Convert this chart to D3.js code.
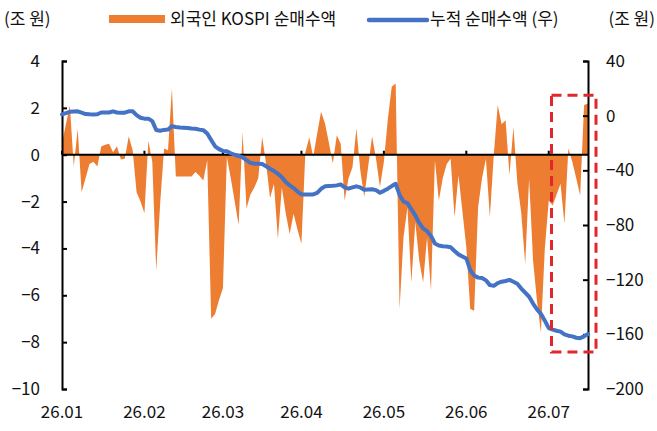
<!DOCTYPE html>
<html>
<head>
<meta charset="utf-8">
<script src="https://cdn.jsdelivr.net/npm/d3@7"></script>
<style>
    body { margin: 0; background: #fff; }
    svg { font-family: "Noto Sans CJK KR", "Noto Sans", sans-serif; }
</style>
</head>
<body>
<svg id="chart" width="657" height="431"></svg>
<script>
// daily foreign net buying of KOSPI (조 원), trading day index from 26.01 start
const netBuy = [
    0.5, 1.3, 2.1, -0.5, 1.1, -1.6, -1.0, -0.4, -0.3, -0.5,
    0.35, 0.42, 0.47, 0.1, 0.36, -0.2, -0.17, 0.79, 0.19, -1.6,
    -2.0, -2.5, 0.6, -0.3, -4.95, -2.1, 0.27, 0.19, 2.83, -0.93,
    -0.93, -0.93, -0.93, -0.93, -0.74, -0.9, -1.1, -0.24, -7.0, -6.8,
    -6.2, -5.7, -0.1, -1.0, -2.0, -3.0, 0.97, -2.3, -1.7, -1.4,
    -1.0, 0.76, -0.4, -1.85, -1.24, -3.6, -1.4, -2.5, -3.38, -2.52,
    -3.2, -3.8, 0.1, 0.73, -0.1, 0.9, 1.83, 1.33, 0.5, -0.38,
    0.83, 0.47, -1.95, -1.0, -0.53, 1.12, -0.67, -1.81, -0.5, 0.79,
    -0.17, -1.38, -0.3, 1.5, 2.9, 3.04, -6.59, -3.52, -2.24, -5.45,
    -2.88, -4.5, -5.45, -3.52, -5.8, -0.24, -1.95, -1.0, -0.4, -0.17,
    -2.67, -0.88, -2.4, -3.95, -6.59, -6.66, -2.24, -1.0, -0.17, -2.67,
    0.0, 2.12, 1.3, 1.47, -0.88, 1.18, -1.2, -2.5, -4.66, -1.02,
    -4.5, -6.23, -7.59, -4.0, -1.95, -2.17, -1.7, -1.24, -2.95, 0.26,
    -0.3, -1.0, -1.74, 2.12, 2.19
];

// cumulative net buying (조 원, right axis)
const cumNet = [
    0.9, 1.8, 2.8, 3.0, 3.2, 2.2, 1.2, 1.0, 0.9, 1.0,
    2.3, 2.3, 2.3, 3.2, 2.3, 2.2, 2.2, 3.2, 3.2, 0.4,
    -1.5, -2.2, -2.2, -4.0, -10.5, -11.0, -10.4, -10.2, -7.8, -8.3,
    -8.7, -8.8, -9.0, -9.4, -9.6, -10.2, -10.6, -13, -17.8, -22.4,
    -24.5, -25.8, -26, -27.5, -28.6, -29.5, -30.5, -32.5, -34.5, -35.1,
    -35.1, -35.3, -37, -38.8, -40.5, -42.5, -45, -48.5, -51, -53,
    -55.5, -57.6, -57.6, -57.6, -57.6, -56.5, -53.5, -51.7, -51.5, -51.3,
    -51, -50.3, -52.5, -53.4, -52.5, -51.7, -52.5, -54.2, -54, -53.9,
    -54.5, -56.4, -55, -53.4, -51.5, -49.8, -58, -62.8, -64, -68.5,
    -73, -78.5, -82.5, -84.5, -88, -93.5, -95, -95.6, -95.8, -96.3,
    -99, -101.5, -103, -104.5, -113, -117, -118.5, -118.8, -120.5, -124,
    -124.5, -122.5, -121.5, -121, -120.2, -121.5, -123, -126.5, -129.5, -132.5,
    -137.5, -141.7, -145, -150, -155.5, -156.5, -157.4, -158, -160, -161,
    -161.5, -162.5, -162.8, -161.5, -159.8
];

const monthLabels = ["26.01", "26.02", "26.03", "26.04", "26.05", "26.06", "26.07"];
const monthStart = [0, 21, 41, 61, 82, 103, 124];
const leftTicks = [-10, -8, -6, -4, -2, 0, 2, 4];
const rightTicks = [-200, -160, -120, -80, -40, 0, 40];
// highlighted recent period (index range, right-axis range)
const boxIdx = [124.7, 134];
const boxVal = [15, -173];

const ORANGE = "#ED7D31", BLUE = "#4472C4", RED = "#E3262B";
const FS = 17;

const svg = d3.select("#chart");
const plotL = 62, plotR = 588, plotT = 61, plotB = 389;

const x = d3.scaleLinear().domain([0, netBuy.length - 1]).range([plotL, plotR]);
const yL = d3.scaleLinear().domain([-10, 4]).range([plotB, plotT]);
const yR = d3.scaleLinear().domain([-200, 40]).range([plotB, plotT]);

// orange area
const area = d3.area()
    .x(function (d, i) { return x(i); })
    .y0(yL(0))
    .y1(function (d) { return yL(d); });

svg.append("path")
    .datum(netBuy)
    .attr("d", area)
    .attr("fill", ORANGE);

// zero line acting as x axis
svg.append("line")
    .attr("x1", plotL).attr("x2", plotR)
    .attr("y1", yL(0)).attr("y2", yL(0))
    .attr("stroke", "#000").attr("stroke-width", 2);

svg.selectAll(".mtick")
    .data(monthStart)
    .enter().append("line")
    .attr("class", "mtick")
    .attr("x1", function (d) { return x(d); })
    .attr("x2", function (d) { return x(d); })
    .attr("y1", yL(0))
    .attr("y2", yL(0) - 4)
    .attr("stroke", "#000").attr("stroke-width", 2);

svg.selectAll(".mlabel")
    .data(monthLabels)
    .enter().append("text")
    .attr("class", "mlabel")
    .attr("x", function (d, i) { return x(monthStart[i]); })
    .attr("y", 418)
    .attr("text-anchor", "middle")
    .attr("font-size", FS)
    .attr("fill", "#111")
    .text(function (d) { return d; });

// y axes, ticks pointing inward
const axL = svg.append("g")
    .attr("transform", "translate(" + plotL + ",0)")
    .call(d3.axisLeft(yL).tickValues(leftTicks).tickSize(-5).tickPadding(22));
const axR = svg.append("g")
    .attr("transform", "translate(" + plotR + ",0)")
    .call(d3.axisRight(yR).tickValues(rightTicks).tickSize(-5).tickPadding(18));

[axL, axR].forEach(function (g) {
    g.select(".domain").attr("stroke", "#000").attr("stroke-width", 2);
    g.selectAll(".tick line").attr("stroke", "#000").attr("stroke-width", 2);
    g.selectAll(".tick text")
        .attr("font-size", FS)
        .attr("font-family", "\"Noto Sans CJK KR\", sans-serif")
        .attr("fill", "#111");
});

// cumulative line
const line = d3.line()
    .x(function (d, i) { return x(i); })
    .y(function (d) { return yR(d); });

svg.append("path")
    .datum(cumNet)
    .attr("d", line)
    .attr("fill", "none")
    .attr("stroke", BLUE)
    .attr("stroke-width", 4)
    .attr("stroke-linejoin", "round")
    .attr("stroke-linecap", "round");

// highlight box
svg.append("rect")
    .attr("x", x(boxIdx[0]))
    .attr("y", yR(boxVal[0]))
    .attr("width", x(boxIdx[1]) - x(boxIdx[0]) + 8)
    .attr("height", yR(boxVal[1]) - yR(boxVal[0]))
    .attr("fill", "none")
    .attr("stroke", RED)
    .attr("stroke-width", 3)
    .attr("stroke-dasharray", "10,6");

// unit labels + legend
svg.append("text")
    .attr("x", 4).attr("y", 25)
    .attr("font-size", FS).attr("fill", "#111")
    .text("(조 원)");
svg.append("text")
    .attr("x", 655).attr("y", 25)
    .attr("text-anchor", "end")
    .attr("font-size", FS).attr("fill", "#111")
    .text("(조 원)");

svg.append("rect")
    .attr("x", 109).attr("y", 15)
    .attr("width", 56).attr("height", 8)
    .attr("fill", ORANGE);
svg.append("text")
    .attr("x", 170).attr("y", 25)
    .attr("font-size", FS).attr("fill", "#111")
    .text("외국인 KOSPI 순매수액");

svg.append("line")
    .attr("x1", 369).attr("x2", 427)
    .attr("y1", 20).attr("y2", 20)
    .attr("stroke", BLUE).attr("stroke-width", 4.5)
    .attr("stroke-linecap", "round");
svg.append("text")
    .attr("x", 430).attr("y", 25)
    .attr("font-size", FS).attr("fill", "#111")
    .text("누적 순매수액 (우)");
</script>
</body>
</html>
